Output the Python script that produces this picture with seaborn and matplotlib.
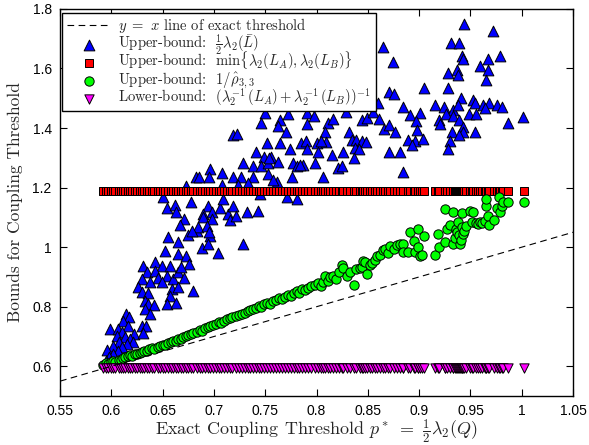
import matplotlib
matplotlib.use("Agg")
import matplotlib.pyplot as plt
import seaborn as sns
import pandas as pd
from matplotlib.ticker import FuncFormatter
from matplotlib.transforms import Bbox

# ---------------- data ----------------
blue_x = [0.655, 0.675, 0.683, 0.696, 0.665, 0.652, 0.665, 0.673, 0.676, 0.688, 0.694, 0.704,
          0.631, 0.643, 0.649, 0.657, 0.635, 0.643, 0.645, 0.654, 0.660, 0.665, 0.668, 0.671,
          0.630, 0.638, 0.649, 0.626, 0.659, 0.665, 0.630, 0.636, 0.680, 0.657, 0.633, 0.636,
          0.642, 0.654, 0.663, 0.633, 0.638, 0.614, 0.617, 0.611, 0.616, 0.630, 0.634, 0.599,
          0.606, 0.610, 0.622, 0.631, 0.605, 0.613, 0.618, 0.607, 0.621, 0.615, 0.602, 0.610,
          0.596, 0.606, 0.602, 0.598, 0.595, 0.600,
          0.650, 0.654, 0.662, 0.663, 0.671, 0.667, 0.678, 0.682, 0.685, 0.696, 0.695, 0.708,
          0.673, 0.708, 0.694, 0.689, 0.698, 0.706, 0.709, 0.714, 0.689, 0.698, 0.716, 0.684,
          0.679, 0.693, 0.695, 0.719,
          0.750, 0.746, 0.764, 0.772, 0.762, 0.770, 0.791, 0.797, 0.791, 0.811, 0.808, 0.752,
          0.764, 0.774, 0.785, 0.790, 0.791, 0.800, 0.809, 0.741, 0.749, 0.756, 0.801, 0.815,
          0.728, 0.738, 0.746, 0.753, 0.762, 0.777, 0.781, 0.787, 0.798, 0.821, 0.719, 0.726,
          0.738, 0.753, 0.761, 0.776, 0.806, 0.723, 0.733, 0.745, 0.771, 0.781, 0.732, 0.743,
          0.728, 0.719, 0.721,
          0.865, 0.874, 0.871, 0.875, 0.884, 0.860, 0.816, 0.829, 0.844, 0.849, 0.855, 0.861,
          0.866, 0.871, 0.876, 0.722, 0.832, 0.835, 0.838, 0.844, 0.848, 0.804, 0.837, 0.841,
          0.826, 0.871, 0.881, 0.754, 0.784, 0.836, 0.825, 0.758, 0.884,
          0.944, 0.972, 0.931, 0.939, 0.942, 0.943, 0.967, 0.979, 0.959, 0.967, 0.928, 0.937,
          0.938, 0.965, 0.905, 0.928, 0.941, 0.915, 0.924, 0.933, 0.938, 0.952, 0.954, 0.962,
          0.968, 0.976, 0.981, 0.964, 0.891, 0.901, 0.926, 0.933, 0.949, 0.955, 0.897, 0.919,
          0.939, 1.001, 0.987, 0.920, 0.898, 0.943, 0.932, 0.943, 0.939, 0.954, 0.889, 0.896,
          0.904, 0.893, 0.930, 0.928]
blue_y = [1.033, 1.040, 1.053, 1.036, 1.016, 0.986, 0.976, 0.969, 0.942, 0.996, 1.009, 0.979,
          0.936, 0.949, 0.936, 0.936, 0.916, 0.919, 0.896, 0.902, 0.892, 0.916, 0.932, 0.896,
          0.892, 0.882, 0.882, 0.865, 0.859, 0.865, 0.849, 0.845, 0.852, 0.835, 0.818, 0.808,
          0.805, 0.808, 0.812, 0.792, 0.775, 0.775, 0.765, 0.751, 0.735, 0.735, 0.735, 0.725,
          0.725, 0.715, 0.708, 0.711, 0.701, 0.698, 0.691, 0.681, 0.681, 0.674, 0.668, 0.664,
          0.654, 0.651, 0.641, 0.631, 0.618, 0.618,
          1.167, 1.130, 1.143, 1.117, 1.093, 1.076, 1.150, 1.237, 1.237, 1.264, 1.237, 1.250,
          1.204, 1.210, 1.137, 1.110, 1.117, 1.133, 1.160, 1.110, 1.100, 1.093, 1.090, 1.066,
          1.053, 1.070, 1.050, 1.375,
          1.452, 1.418, 1.428, 1.448, 1.408, 1.388, 1.452, 1.442, 1.415, 1.418, 1.388, 1.351,
          1.351, 1.331, 1.351, 1.358, 1.328, 1.351, 1.354, 1.321, 1.304, 1.304, 1.318, 1.311,
          1.281, 1.271, 1.274, 1.281, 1.287, 1.284, 1.274, 1.277, 1.281, 1.267, 1.237, 1.237,
          1.237, 1.244, 1.220, 1.237, 1.237, 1.210, 1.214, 1.177, 1.170, 1.163, 1.117, 1.120,
          1.009, 1.137, 1.103,
          1.673, 1.622, 1.522, 1.515, 1.472, 1.485, 1.431, 1.455, 1.428, 1.435, 1.455, 1.431,
          1.398, 1.411, 1.388, 1.381, 1.388, 1.361, 1.361, 1.358, 1.354, 1.358, 1.334, 1.328,
          1.321, 1.321, 1.321, 1.301, 1.277, 1.298, 1.271, 1.227, 1.254,
          1.750, 1.726, 1.686, 1.686, 1.643, 1.633, 1.633, 1.643, 1.609, 1.596, 1.586, 1.596,
          1.579, 1.562, 1.535, 1.535, 1.502, 1.478, 1.472, 1.462, 1.478, 1.495, 1.485, 1.478,
          1.485, 1.478, 1.472, 1.468, 1.445, 1.452, 1.448, 1.442, 1.448, 1.448, 1.425, 1.428,
          1.428, 1.438, 1.418, 1.415, 1.395, 1.405, 1.388, 1.388, 1.375, 1.385, 1.361, 1.358,
          1.364, 1.344, 1.358, 1.328]

green_x = [0.592, 0.595, 0.597, 0.600, 0.602, 0.604, 0.607, 0.609, 0.611, 0.613, 0.616, 0.618,
           0.620, 0.623, 0.625, 0.628, 0.630, 0.632, 0.635, 0.637, 0.640, 0.642, 0.645, 0.647,
           0.650, 0.652, 0.655, 0.658, 0.660, 0.663, 0.665, 0.668, 0.670, 0.673, 0.675, 0.678,
           0.680, 0.683, 0.686, 0.688, 0.691, 0.694, 0.696, 0.699, 0.702, 0.705, 0.707, 0.710,
           0.713, 0.716, 0.718, 0.721, 0.724, 0.727, 0.730, 0.733, 0.735, 0.738, 0.741, 0.744,
           0.746, 0.749, 0.752, 0.755, 0.758, 0.760, 0.763, 0.766, 0.769, 0.772, 0.775, 0.778,
           0.781, 0.783, 0.786, 0.789, 0.792, 0.795, 0.798, 0.801, 0.804, 0.806, 0.808, 0.811,
           0.813, 0.816, 0.819, 0.822, 0.825, 0.826, 0.830, 0.833, 0.836, 0.838, 0.842, 0.844,
           0.845, 0.847, 0.849, 0.852, 0.854, 0.857, 0.859, 0.862, 0.865, 0.867, 0.870, 0.872,
           0.875, 0.878, 0.881, 0.884, 0.884, 0.889, 0.891, 0.895, 0.896, 0.899, 0.899, 0.901,
           0.903, 0.905, 0.915, 0.918, 0.919, 0.925, 0.925, 0.927, 0.930, 0.933, 0.933, 0.935,
           0.936, 0.937, 0.938, 0.939, 0.940, 0.941, 0.942, 0.942, 0.943, 0.944, 0.946, 0.950,
           0.951, 0.952, 0.955, 0.957, 0.959, 0.961, 0.964, 0.965, 0.965, 0.967, 0.968, 0.973,
           0.976, 0.978, 0.979, 0.981, 0.982, 0.987, 1.002]
green_y = [0.605, 0.610, 0.608, 0.613, 0.618, 0.615, 0.622, 0.620, 0.627, 0.630, 0.633, 0.637,
           0.635, 0.642, 0.640, 0.646, 0.648, 0.652, 0.651, 0.657, 0.660, 0.658, 0.666, 0.668,
           0.672, 0.670, 0.677, 0.680, 0.684, 0.686, 0.690, 0.693, 0.698, 0.702, 0.705, 0.707,
           0.713, 0.716, 0.722, 0.719, 0.728, 0.731, 0.735, 0.738, 0.742, 0.747, 0.744, 0.752,
           0.758, 0.761, 0.766, 0.768, 0.772, 0.776, 0.780, 0.785, 0.790, 0.792, 0.797, 0.803,
           0.800, 0.808, 0.812, 0.810, 0.818, 0.822, 0.828, 0.825, 0.832, 0.838, 0.835, 0.846,
           0.852, 0.845, 0.858, 0.855, 0.862, 0.868, 0.873, 0.878, 0.870, 0.884, 0.902, 0.888,
           0.899, 0.902, 0.892, 0.915, 0.939, 0.930, 0.902, 0.918, 0.872, 0.925, 0.929, 0.932,
           0.952, 0.949, 0.909, 0.940, 0.946, 0.958, 0.969, 0.975, 0.989, 0.993, 0.982, 1.003,
           0.995, 1.006, 1.012, 1.009, 0.983, 0.983, 1.050, 1.019, 0.983, 1.060, 0.999, 0.969,
           0.973, 1.036, 0.973, 1.043, 0.999, 1.127, 1.016, 1.060, 1.076, 1.117, 1.009, 1.030,
           1.060, 1.050, 1.083, 1.040, 1.009, 1.025, 1.066, 1.113, 1.043, 1.055, 1.070, 1.123,
           1.083, 1.117, 1.080, 1.078, 1.083, 1.082, 1.087, 1.137, 1.163, 1.103, 1.073, 1.090,
           1.133, 1.167, 1.117, 1.137, 1.153, 1.153, 1.150]

# thresholds of every instance (same x as the 1/rho bound)
inst_x = green_x
minlambda_level = 1.188   # red squares all sit on this value
lower_level = 0.595       # magenta triangles all sit on this value
red_y = [minlambda_level for _ in inst_x]
magenta_y = [lower_level for _ in inst_x]

line_x = [0.55, 1.05]
xticks = [0.55, 0.6, 0.65, 0.7, 0.75, 0.8, 0.85, 0.9, 0.95, 1.0, 1.05]
yticks = [0.6, 0.8, 1.0, 1.2, 1.4, 1.6, 1.8]

labels = [r"$y\ =\ x$ line of exact threshold",
          r"Upper-bound:  $\frac{1}{2}\lambda_2(\bar{L})$",
          r"Upper-bound:  $\min\{\lambda_2(L_A), \lambda_2(L_B)\}$",
          r"Upper-bound:  $1/\hat{\rho}_{3,3}$",
          r"Lower-bound:  $(\lambda_2^{-1}\,(L_A) + \lambda_2^{-1}\,(L_B))^{-1}$"]

# ---------------- figure ----------------
sns.set_style("ticks")
plt.rcParams["font.family"] = ["Liberation Sans", "DejaVu Sans"]
plt.rcParams["mathtext.fontset"] = "cm"

fig = plt.figure(figsize=(5.89, 4.45), dpi=100)
ax = fig.add_axes([0.102, 0.110, 0.871, 0.870])

sns.lineplot(x=line_x, y=line_x, ax=ax, color="black", linewidth=0.8,
             linestyle="--", label=labels[0])
ax.lines[-1].set_dashes([6, 4])

edge = dict(edgecolor="black", linewidth=0.7)
sns.scatterplot(x=blue_x, y=blue_y, ax=ax, marker="^", color="#0000ff", s=60,
                label=labels[1], **edge)
sns.scatterplot(x=inst_x, y=red_y, ax=ax, marker="s", color="#ff0000", s=26,
                label=labels[2], **edge)
sns.scatterplot(x=green_x, y=green_y, ax=ax, marker="o", color="#00ff00", s=45,
                label=labels[3], **edge)
sns.scatterplot(x=inst_x, y=magenta_y, ax=ax, marker="v", color="#ff00ff", s=45,
                label=labels[4], **edge)

ax.set_xlim(0.55, 1.05)
ax.set_ylim(0.5, 1.8)
ax.set_xticks(xticks)
ax.set_yticks(yticks)
fmt = FuncFormatter(lambda v, p: "%g" % round(v, 2))
ax.xaxis.set_major_formatter(fmt)
ax.yaxis.set_major_formatter(fmt)
ax.tick_params(direction="in", top=True, right=True, length=5, width=0.8,
               labelsize=10, colors="black", pad=6)
for sp in ax.spines.values():
    sp.set_linewidth(1.0)
    sp.set_color("black")

ax.set_xlabel(r"Exact Coupling Threshold $p^*\ =\ \frac{1}{2}\lambda_2(Q)$",
              family="cmr10", fontsize=13, labelpad=-1)
ax.set_ylabel("Bounds for Coupling Threshold", family="cmr10", fontsize=12.5,
              labelpad=7)

leg = ax.legend(loc="upper left", bbox_to_anchor=(0.004, 0.99), borderaxespad=0,
                prop={"family": "cmr10", "size": 10.5}, frameon=True,
                fancybox=False, edgecolor="black", framealpha=1,
                handlelength=3.0, handletextpad=0.5, labelspacing=0.14,
                borderpad=0.35, scatterpoints=1)
leg.get_frame().set_linewidth(1.0)

# give every legend row the same line height (like a LaTeX baselineskip)
ASC, DESC = 12.5, 3.5
for col in leg._legend_handle_box.get_children():
    for row in col.get_children():
        ta = row.get_children()[1]
        orig = ta.get_bbox

        def fixed(renderer, _orig=orig):
            b = _orig(renderer)
            return Bbox.from_bounds(b.x0, -DESC, b.width, ASC + DESC)
        ta.get_bbox = fixed

fig.savefig("out.png", dpi=100)
